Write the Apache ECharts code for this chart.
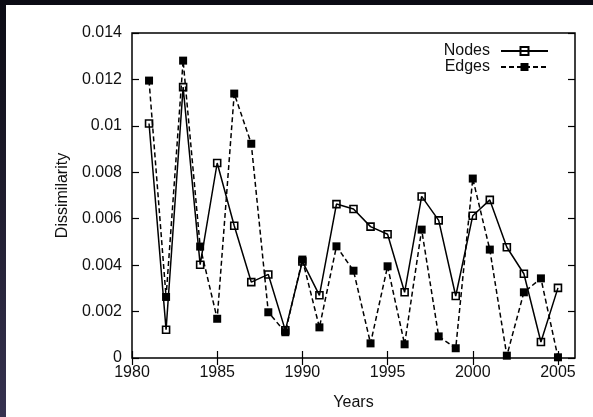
<!DOCTYPE html>
<html>
<head>
<meta charset="utf-8">
<script src="https://cdn.jsdelivr.net/npm/echarts@6/dist/echarts.min.js"></script>
<style>
  html, body { margin: 0; padding: 0; }
  #wrap { position: relative; width: 593px; height: 417px; background: linear-gradient(to bottom, #0b0b14 0%, #1c1a2a 40%, #363250 100%); overflow: hidden; }
  #paper { position: absolute; left: 6px; top: 5px; right: 0; bottom: 0; background: #ffffff; }
  #chart { position: absolute; left: 0; top: 0; width: 593px; height: 417px; }
</style>
</head>
<body>
<div id="wrap"><div id="paper"></div><div id="chart"></div></div>
<script>
const years = [1981, 1982, 1983, 1984, 1985, 1986, 1987, 1988, 1989, 1990, 1991, 1992, 1993,
               1994, 1995, 1996, 1997, 1998, 1999, 2000, 2001, 2002, 2003, 2004, 2005];
const nodes = [0.0101, 0.00122, 0.01167, 0.00402, 0.0084, 0.0057, 0.00327, 0.0036, 0.00119, 0.00416,
               0.0027, 0.00663, 0.00642, 0.00566, 0.00533, 0.00283, 0.00696, 0.00593, 0.00267, 0.00613,
               0.00681, 0.00477, 0.00363, 0.00069, 0.00302];
const edges = [0.01195, 0.00263, 0.01281, 0.0048, 0.00169, 0.01139, 0.00923, 0.00197, 0.00111, 0.00424,
               0.00132, 0.00481, 0.00376, 0.00063, 0.00395, 0.00059, 0.00553, 0.00093, 0.00042, 0.00773,
               0.00467, 0.0001, 0.00283, 0.00343, 0.00003];
const xTicks = [1980, 1985, 1990, 1995, 2000, 2005];
const xLabel = 'Years';
const yLabel = 'Dissimilarity';
const seriesNames = ['Nodes', 'Edges'];

const FONT = 'Liberation Sans, Arial, Helvetica, sans-serif';
const FS = 16;
const chart = echarts.init(document.getElementById('chart'), null, { renderer: 'canvas' });

const xCommon = {
  type: 'value', min: 1980, max: 2006,
  axisLine: { show: false },
  splitLine: { show: false },
  axisTick: { show: true, inside: true, length: 7, customValues: xTicks, lineStyle: { color: '#000', width: 1.2 } }
};
const yCommon = {
  type: 'value', min: 0, max: 0.014, interval: 0.002,
  axisLine: { show: false },
  splitLine: { show: false },
  axisTick: { show: true, inside: true, length: 7, lineStyle: { color: '#000', width: 1.2 } }
};

chart.setOption({
  animation: false,
  backgroundColor: 'transparent',
  grid: { left: 132, right: 18, top: 33, bottom: 59, show: true, borderColor: '#000', borderWidth: 1.5, backgroundColor: 'transparent' },
  legend: {
    data: seriesNames,
    orient: 'vertical',
    right: 39, top: 38,
    align: 'right',
    itemWidth: 47, itemHeight: 10, itemGap: 0,
    textStyle: { fontFamily: FONT, fontSize: FS, lineHeight: 15, color: '#111', padding: [0, 6, 0, 0] },
    inactiveColor: '#000'
  },
  xAxis: [
    Object.assign({}, xCommon, {
      position: 'bottom',
      name: xLabel, nameLocation: 'middle', nameGap: 37,
      nameTextStyle: { fontFamily: FONT, fontSize: FS, color: '#111' },
      axisLabel: { show: true, margin: 7, customValues: xTicks, fontFamily: FONT, fontSize: FS, color: '#111',
                   formatter: v => String(v) }
    }),
    Object.assign({}, xCommon, { position: 'top', axisLabel: { show: false } })
  ],
  yAxis: [
    Object.assign({}, yCommon, {
      position: 'left',
      name: yLabel, nameLocation: 'middle', nameGap: 61,
      nameTextStyle: { fontFamily: FONT, fontSize: FS, color: '#111' },
      axisLabel: { show: true, margin: 10, fontFamily: FONT, fontSize: FS, color: '#111' }
    }),
    Object.assign({}, yCommon, { position: 'right', axisLabel: { show: false } })
  ],
  series: [
    {
      name: seriesNames[0], type: 'line',
      data: years.map((y, i) => [y, nodes[i]]),
      symbol: 'rect', symbolSize: 7, showAllSymbol: true,
      lineStyle: { color: '#000', width: 1.5, type: 'solid' },
      itemStyle: { color: 'rgba(255,255,255,0)', borderColor: '#000', borderWidth: 1.6 },
      emphasis: { disabled: true }
    },
    {
      name: seriesNames[1], type: 'line',
      data: years.map((y, i) => [y, edges[i]]),
      symbol: 'rect', symbolSize: 8, showAllSymbol: true,
      lineStyle: { color: '#000', width: 1.5, type: [5, 3] },
      itemStyle: { color: '#000', borderWidth: 0 },
      emphasis: { disabled: true }
    }
  ]
});
</script>
</body>
</html>
